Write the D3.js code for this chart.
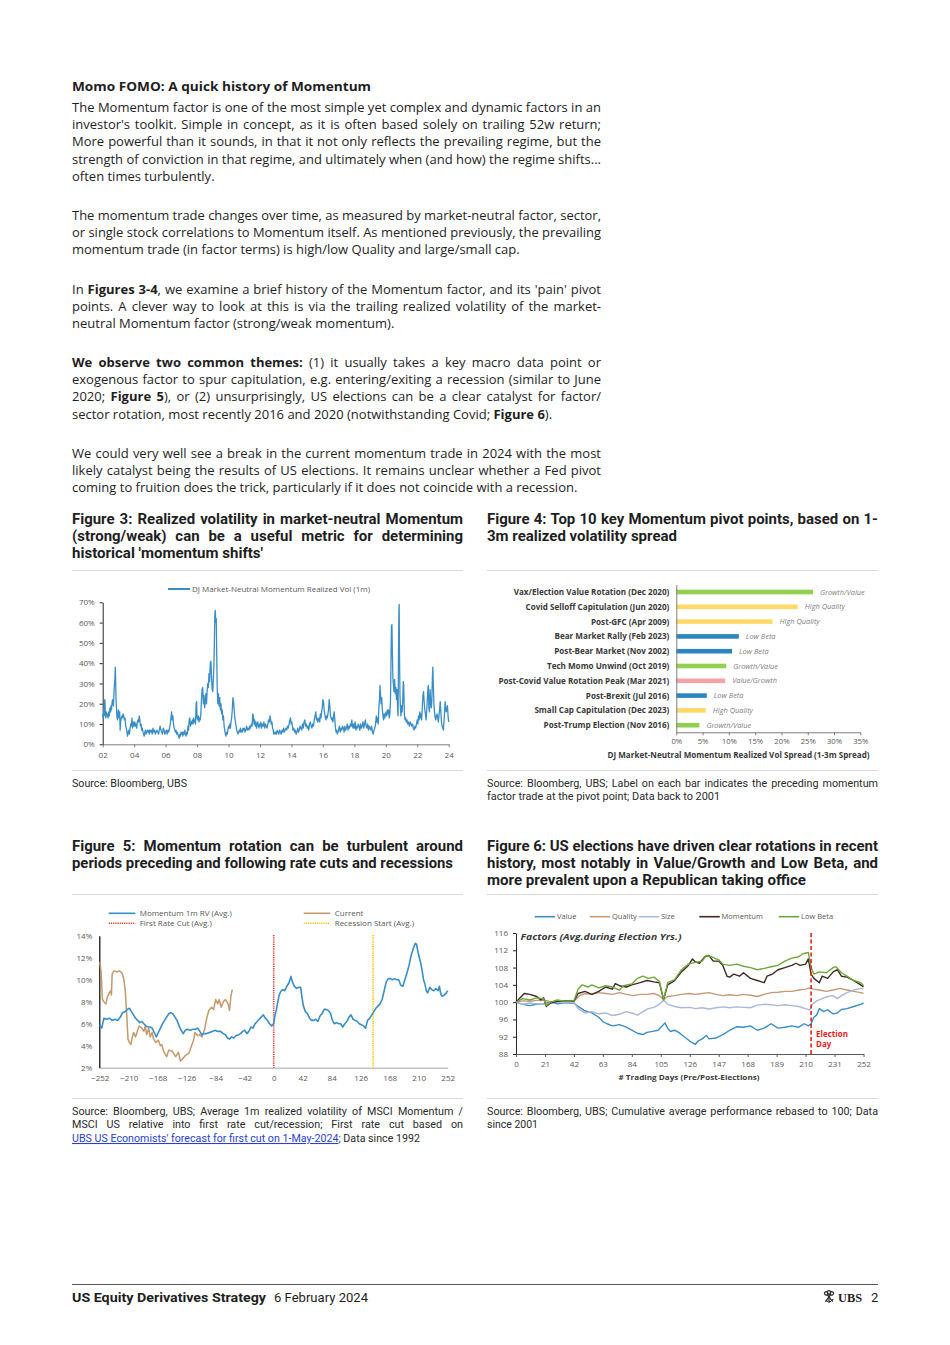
<!DOCTYPE html>
<html><head><meta charset="utf-8">
<script src="https://cdn.jsdelivr.net/npm/d3@7/dist/d3.min.js"></script>
<style>body{margin:0;background:#fff}svg{display:block}text{white-space:pre}</style>
</head><body>
<svg id="page" width="950" height="1345"></svg>
<script>
// ---------------- DATA ----------------
// Figure 3: DJ Market-Neutral Momentum realized vol (1m), [year, %]
const momVol = [[2002.00,15],[2002.03,13],[2002.06,17],[2002.09,14],[2002.12,21],[2002.14,22],[2002.17,15],[2002.20,13],[2002.23,16],[2002.26,14],[2002.30,15],[2002.34,13],[2002.38,16],[2002.42,14],[2002.46,18],[2002.50,16],[2002.53,19],[2002.56,17],[2002.60,21],[2002.64,22],[2002.68,19],[2002.71,24],[2002.74,29],[2002.77,31],[2002.80,38],[2002.82,33],[2002.85,22],[2002.88,17],[2002.91,13],[2002.94,12],[2002.97,15],[2003.00,17],[2003.04,13],[2003.08,16],[2003.11,7],[2003.14,11],[2003.18,13],[2003.22,14],[2003.26,13],[2003.30,15],[2003.34,14],[2003.38,12],[2003.42,13],[2003.46,9],[2003.50,8],[2003.54,6],[2003.58,4],[2003.62,6],[2003.66,7],[2003.70,5],[2003.74,8],[2003.78,10],[2003.82,9],[2003.86,13],[2003.90,8],[2003.94,11],[2004.00,9],[2004.04,11],[2004.08,9],[2004.12,10],[2004.16,8],[2004.20,11],[2004.24,12],[2004.28,11],[2004.32,14],[2004.36,12],[2004.40,9],[2004.44,10],[2004.48,7],[2004.52,8],[2004.56,6],[2004.60,5],[2004.64,4],[2004.68,6],[2004.72,7],[2004.76,5],[2004.80,6],[2004.84,7],[2004.88,6],[2004.92,7],[2004.96,5],[2005.00,7],[2005.05,6],[2005.10,7],[2005.15,5],[2005.20,8],[2005.25,6],[2005.30,7],[2005.35,5],[2005.40,6],[2005.45,7],[2005.50,6],[2005.55,5],[2005.60,7],[2005.65,9],[2005.70,7],[2005.75,6],[2005.80,5],[2005.85,8],[2005.90,7],[2005.95,5],[2006.00,6],[2006.05,7],[2006.10,5],[2006.15,7],[2006.20,6],[2006.25,8],[2006.30,10],[2006.34,13],[2006.38,16],[2006.42,12],[2006.46,14],[2006.50,10],[2006.54,8],[2006.58,7],[2006.62,6],[2006.66,7],[2006.70,5],[2006.74,6],[2006.78,5],[2006.82,4],[2006.86,3],[2006.90,5],[2006.94,4],[2006.98,6],[2007.02,5],[2007.06,6],[2007.10,4],[2007.14,6],[2007.18,5],[2007.22,7],[2007.26,5],[2007.30,4],[2007.34,6],[2007.38,5],[2007.42,9],[2007.46,7],[2007.50,12],[2007.54,13],[2007.58,9],[2007.62,11],[2007.66,10],[2007.70,12],[2007.74,10],[2007.78,13],[2007.82,11],[2007.86,12],[2007.90,10],[2007.94,20],[2007.97,21],[2008.00,13],[2008.04,12],[2008.08,14],[2008.12,11],[2008.16,13],[2008.20,12],[2008.24,15],[2008.28,22],[2008.32,27],[2008.36,28],[2008.40,20],[2008.44,24],[2008.48,18],[2008.52,21],[2008.56,25],[2008.60,20],[2008.64,26],[2008.68,30],[2008.72,28],[2008.76,35],[2008.80,31],[2008.84,40],[2008.88,41],[2008.92,33],[2008.96,27],[2009.00,26],[2009.04,33],[2009.07,38],[2009.10,50],[2009.13,64],[2009.16,66],[2009.19,60],[2009.22,62],[2009.25,44],[2009.28,28],[2009.32,20],[2009.36,25],[2009.40,19],[2009.44,23],[2009.48,17],[2009.52,20],[2009.56,15],[2009.60,17],[2009.64,12],[2009.68,14],[2009.72,9],[2009.76,7],[2009.80,5],[2009.84,4],[2009.88,6],[2009.92,5],[2009.96,7],[2010.00,9],[2010.04,8],[2010.08,10],[2010.12,8],[2010.16,11],[2010.20,13],[2010.24,17],[2010.28,23],[2010.32,21],[2010.36,17],[2010.40,13],[2010.44,11],[2010.48,9],[2010.52,7],[2010.56,6],[2010.60,5],[2010.64,6],[2010.68,7],[2010.72,6],[2010.76,8],[2010.80,6],[2010.84,7],[2010.88,6],[2010.92,8],[2010.96,7],[2011.00,8],[2011.05,6],[2011.10,7],[2011.15,9],[2011.20,7],[2011.25,8],[2011.30,7],[2011.35,9],[2011.40,8],[2011.45,10],[2011.50,9],[2011.54,15],[2011.58,14],[2011.62,10],[2011.66,12],[2011.70,9],[2011.74,11],[2011.78,8],[2011.82,10],[2011.86,11],[2011.90,9],[2011.94,8],[2011.98,10],[2012.02,9],[2012.06,11],[2012.10,8],[2012.15,10],[2012.20,9],[2012.25,11],[2012.30,8],[2012.35,10],[2012.40,9],[2012.45,8],[2012.50,10],[2012.55,12],[2012.60,11],[2012.64,14],[2012.68,12],[2012.72,10],[2012.76,11],[2012.80,8],[2012.84,7],[2012.88,5],[2012.92,6],[2012.96,5],[2013.00,6],[2013.05,5],[2013.10,7],[2013.15,6],[2013.20,5],[2013.25,7],[2013.30,6],[2013.35,5],[2013.40,7],[2013.45,6],[2013.50,8],[2013.55,6],[2013.60,7],[2013.65,8],[2013.70,7],[2013.75,9],[2013.80,8],[2013.85,10],[2013.90,12],[2013.94,13],[2013.98,10],[2014.02,11],[2014.06,9],[2014.10,7],[2014.15,8],[2014.20,6],[2014.25,7],[2014.30,5],[2014.35,6],[2014.40,8],[2014.45,6],[2014.50,7],[2014.55,9],[2014.60,8],[2014.65,7],[2014.70,10],[2014.75,8],[2014.80,11],[2014.85,12],[2014.90,9],[2014.95,10],[2015.00,8],[2015.05,9],[2015.10,7],[2015.15,10],[2015.20,11],[2015.25,9],[2015.30,8],[2015.35,10],[2015.40,9],[2015.45,12],[2015.50,14],[2015.55,16],[2015.59,12],[2015.63,13],[2015.67,11],[2015.71,12],[2015.75,13],[2015.80,11],[2015.84,15],[2015.88,13],[2015.92,16],[2015.96,18],[2016.00,22],[2016.04,21],[2016.08,17],[2016.12,15],[2016.16,13],[2016.20,12],[2016.24,14],[2016.28,13],[2016.32,15],[2016.36,17],[2016.40,22],[2016.44,19],[2016.48,14],[2016.52,13],[2016.56,12],[2016.60,13],[2016.64,11],[2016.68,14],[2016.72,16],[2016.76,12],[2016.80,8],[2016.84,6],[2016.88,7],[2016.92,5],[2016.96,6],[2017.00,7],[2017.05,9],[2017.10,6],[2017.15,8],[2017.20,7],[2017.25,9],[2017.30,8],[2017.35,6],[2017.40,9],[2017.45,7],[2017.50,8],[2017.55,10],[2017.60,7],[2017.65,9],[2017.70,8],[2017.75,10],[2017.80,9],[2017.84,12],[2017.88,9],[2017.92,8],[2017.96,10],[2018.00,8],[2018.05,11],[2018.10,7],[2018.15,9],[2018.20,8],[2018.25,10],[2018.30,9],[2018.35,7],[2018.40,10],[2018.45,8],[2018.50,9],[2018.55,11],[2018.60,8],[2018.65,10],[2018.70,12],[2018.75,9],[2018.80,8],[2018.85,10],[2018.90,7],[2018.95,9],[2019.00,8],[2019.05,7],[2019.10,9],[2019.15,6],[2019.20,5],[2019.25,7],[2019.30,8],[2019.35,10],[2019.40,14],[2019.44,11],[2019.48,13],[2019.52,10],[2019.56,18],[2019.60,22],[2019.63,29],[2019.66,25],[2019.70,20],[2019.74,23],[2019.78,17],[2019.82,14],[2019.86,12],[2019.90,15],[2019.94,13],[2019.98,15],[2020.02,16],[2020.06,14],[2020.10,17],[2020.14,15],[2020.18,17],[2020.22,13],[2020.26,15],[2020.30,22],[2020.33,40],[2020.36,58],[2020.39,59],[2020.42,45],[2020.45,33],[2020.48,30],[2020.52,26],[2020.56,32],[2020.60,25],[2020.64,28],[2020.68,22],[2020.72,27],[2020.75,18],[2020.78,14],[2020.80,35],[2020.83,65],[2020.85,69],[2020.87,45],[2020.90,25],[2020.93,18],[2020.96,14],[2021.00,19],[2021.04,16],[2021.08,22],[2021.11,31],[2021.14,29],[2021.18,15],[2021.22,12],[2021.26,13],[2021.30,11],[2021.35,12],[2021.40,10],[2021.45,11],[2021.50,9],[2021.55,11],[2021.60,10],[2021.65,9],[2021.70,10],[2021.75,8],[2021.80,7],[2021.85,9],[2021.90,8],[2021.95,10],[2022.00,12],[2022.04,10],[2022.08,14],[2022.12,12],[2022.16,16],[2022.20,13],[2022.24,15],[2022.28,12],[2022.32,18],[2022.36,24],[2022.40,26],[2022.44,21],[2022.48,17],[2022.52,15],[2022.56,12],[2022.60,16],[2022.64,22],[2022.68,28],[2022.71,29],[2022.74,18],[2022.78,16],[2022.82,27],[2022.86,20],[2022.90,18],[2022.93,22],[2022.96,32],[2022.99,38],[2023.02,30],[2023.06,20],[2023.10,16],[2023.14,13],[2023.18,12],[2023.22,14],[2023.26,15],[2023.30,13],[2023.34,11],[2023.38,14],[2023.42,17],[2023.46,21],[2023.50,16],[2023.54,11],[2023.58,9],[2023.62,8],[2023.66,7],[2023.70,11],[2023.74,16],[2023.77,21],[2023.80,19],[2023.84,16],[2023.88,17],[2023.92,19],[2023.96,14],[2024.00,11]];
const fig3YearTicks = [2002,2004,2006,2008,2010,2012,2014,2016,2018,2020,2022,2024];
const fig3VolTicks = [0,10,20,30,40,50,60,70];

// Figure 4: pivot points
const pivotLabels = ["Vax/Election Value Rotation (Dec 2020)","Covid Selloff Capitulation (Jun 2020)","Post-GFC (Apr 2009)","Bear Market Rally (Feb 2023)","Post-Bear Market (Nov 2002)","Tech Momo Unwind (Oct 2019)","Post-Covid Value Rotation Peak (Mar 2021)","Post-Brexit (Jul 2016)","Small Cap Capitulation (Dec 2023)","Post-Trump Election (Nov 2016)"];
const pivotSpread = [26.0, 23.1, 18.3, 11.9, 10.6, 9.5, 9.3, 5.8, 5.6, 4.4];
const pivotTrade = ["Growth/Value","High Quality","High Quality","Low Beta","Low Beta","Growth/Value","Value/Growth","Low Beta","High Quality","Growth/Value"];
const fig4Ticks = [0,5,10,15,20,25,30,35];

// Figure 5: momentum 1m RV around first rate cut, [trading day, %]
const rvAvg = [[-252,5.9],[-249,5.6],[-246,6.5],[-242,6.4],[-238,6.5],[-234,6.3],[-230,6.4],[-226,6.3],[-222,6.6],[-219,7.0],[-215,7.1],[-212,7.3],[-209,7.4],[-206,7.1],[-203,6.8],[-200,6.5],[-197,6.3],[-194,6.1],[-191,6.2],[-188,6.0],[-185,5.8],[-182,5.7],[-179,5.7],[-176,5.6],[-173,5.2],[-170,4.8],[-167,5.2],[-164,5.6],[-161,6.0],[-158,6.3],[-155,6.6],[-152,6.9],[-149,7.0],[-146,6.9],[-143,6.6],[-140,6.3],[-137,5.8],[-134,5.4],[-131,5.1],[-128,5.4],[-125,5.5],[-121,5.4],[-117,5.5],[-113,5.5],[-110,5.6],[-107,5.3],[-104,5.0],[-101,5.1],[-97,5.1],[-93,5.2],[-89,5.3],[-85,5.4],[-81,5.3],[-77,5.3],[-73,5.1],[-70,5.0],[-67,4.7],[-64,4.6],[-61,4.8],[-58,4.7],[-55,4.9],[-51,5.0],[-48,5.1],[-45,5.3],[-42,5.4],[-39,5.1],[-36,5.3],[-33,5.7],[-30,5.6],[-27,6.0],[-24,6.2],[-21,6.4],[-18,6.6],[-15,6.8],[-12,6.5],[-9,6.3],[-6,6.0],[-3,5.8],[0,6.0],[2,6.8],[4,7.3],[6,8.0],[8,8.6],[10,8.9],[13,9.1],[16,9.0],[19,9.4],[22,9.7],[25,10.3],[27,9.8],[30,9.4],[33,9.2],[36,9.3],[39,9.3],[41,8.4],[43,7.6],[46,7.1],[49,6.9],[52,6.5],[55,6.3],[58,6.3],[61,6.4],[64,6.2],[67,6.7],[70,6.9],[73,7.3],[76,7.3],[79,7.2],[82,7.0],[85,6.3],[88,6.0],[91,6.1],[94,6.0],[97,6.0],[100,5.7],[103,6.0],[106,6.2],[109,6.6],[112,6.8],[115,6.4],[118,6.3],[121,6.2],[124,6.0],[127,5.9],[130,5.8],[133,5.6],[136,6.3],[139,6.5],[142,6.8],[145,7.1],[148,7.4],[151,7.6],[154,7.8],[157,8.2],[160,9.0],[163,9.8],[166,10.1],[169,10.1],[172,10.0],[175,10.1],[178,10.0],[181,10.0],[184,9.5],[187,9.4],[190,10.0],[193,10.6],[196,11.3],[199,12.2],[202,12.8],[205,13.3],[207,13.2],[209,12.5],[211,12.0],[213,11.5],[215,10.8],[217,10.0],[219,9.6],[221,9.0],[223,8.8],[226,9.3],[229,9.1],[232,9.0],[235,9.2],[238,9.0],[240,9.4],[242,8.7],[244,8.5],[247,8.6],[250,8.8],[252,9.0]];
const rvCurrent = [[-252,11.6],[-250,10.8],[-248,8.2],[-246,8.0],[-243,7.8],[-241,8.4],[-238,8.8],[-236,9.0],[-235,8.6],[-234,10.5],[-231,10.8],[-227,10.7],[-224,10.8],[-221,10.7],[-219,10.5],[-217,10.0],[-215,9.0],[-213,7.0],[-211,4.6],[-209,4.3],[-207,4.1],[-205,4.7],[-203,5.2],[-200,4.8],[-198,5.2],[-195,5.8],[-191,5.6],[-188,5.3],[-186,5.8],[-184,5.0],[-181,5.6],[-179,4.8],[-176,5.2],[-174,4.6],[-171,4.3],[-167,4.5],[-164,4.0],[-162,4.1],[-160,3.6],[-157,3.2],[-155,3.0],[-152,3.6],[-147,3.5],[-142,3.0],[-138,3.4],[-135,2.6],[-132,2.8],[-128,3.1],[-123,3.3],[-119,4.0],[-116,4.5],[-114,5.2],[-110,4.9],[-107,5.0],[-104,4.8],[-100,5.5],[-97,6.5],[-94,7.2],[-90,7.5],[-87,7.3],[-84,8.2],[-81,7.8],[-79,8.2],[-76,7.5],[-73,8.0],[-70,8.2],[-66,7.8],[-64,7.2],[-62,8.5],[-60,9.1]];
const firstRateCutDay = 0;
const recessionStartDay = 144;
const fig5DayTicks = [-252,-210,-168,-126,-84,-42,0,42,84,126,168,210,252];
const fig5RvTicks = [2,4,6,8,10,12,14];

// Figure 6: factors during election years, [trading day, index]
const factorValue = [[0,100],[5,99.5],[10,99.2],[15,99.5],[20,99.6],[25,100.1],[30,99.6],[35,99.8],[42,99.8],[45,99.0],[50,98.0],[55,97.5],[60,96.5],[63,95.5],[66,95.0],[70,94.5],[75,94.8],[80,94.2],[84,93.5],[88,92.8],[92,92.5],[95,93.0],[100,93.3],[103,93.5],[106,94.5],[108,95.2],[110,94.0],[112,93.2],[115,93.5],[118,93.0],[122,92.0],[126,91.0],[130,90.2],[132,91.0],[135,91.5],[138,92.3],[140,91.5],[145,91.7],[150,92.5],[155,93.5],[160,94.3],[165,94.2],[170,94.5],[175,93.5],[180,94.0],[185,95.0],[190,94.0],[195,94.2],[200,94.5],[205,94.2],[209,95.0],[212,94.5],[214,95.0],[216,96.5],[218,97.0],[220,98.5],[223,97.8],[226,98.2],[230,97.3],[233,97.5],[236,98.3],[240,98.5],[245,99.0],[250,99.5],[252,99.8]];
const factorQuality = [[0,100],[5,100.3],[10,100.2],[15,100.4],[20,100.5],[25,100.1],[30,100.0],[35,100.3],[42,100.2],[46,101.5],[50,102.0],[55,101.8],[60,102.2],[65,102.0],[70,101.8],[75,102.2],[80,101.8],[85,101.5],[90,101.8],[95,101.8],[100,102.0],[104,101.5],[107,100.6],[110,101.3],[115,101.5],[120,101.8],[126,102.0],[130,101.8],[135,102.0],[140,102.2],[145,101.8],[150,101.5],[155,101.7],[160,101.5],[165,101.8],[170,101.6],[175,101.3],[180,101.8],[185,102.2],[190,102.3],[195,102.5],[200,102.5],[205,102.8],[210,103.0],[213,103.3],[216,103.0],[220,102.8],[225,102.5],[230,102.8],[235,103.2],[240,102.8],[245,102.5],[250,102.2],[252,102.0]];
const factorSize = [[0,100],[5,99.5],[10,99.8],[15,99.6],[20,99.5],[25,99.8],[30,100.0],[35,99.8],[42,100.0],[45,98.5],[50,97.5],[55,97.8],[60,97.3],[65,97.5],[70,96.9],[75,97.2],[80,97.8],[84,97.5],[88,97.0],[92,97.8],[96,98.5],[100,98.8],[104,99.5],[107,100.5],[110,99.5],[115,99.0],[120,98.7],[126,98.8],[130,98.5],[135,98.7],[140,98.4],[145,98.7],[150,98.9],[155,98.7],[160,98.9],[165,98.8],[170,98.7],[175,99.3],[180,99.5],[185,99.4],[190,99.2],[195,99.4],[200,99.2],[205,99.0],[210,98.5],[213,98.2],[215,99.5],[218,100.3],[222,100.8],[226,101.3],[230,101.5],[233,100.8],[236,101.5],[240,102.2],[245,102.8],[250,103.2],[252,103.0]];
const factorMomentum = [[0,100],[3,101.0],[6,102.0],[10,101.8],[15,101.3],[18,100.5],[20,101.0],[22,99.0],[25,99.8],[30,100.2],[35,100.3],[42,100.2],[45,102.0],[50,102.5],[55,101.8],[60,102.5],[65,103.5],[70,103.0],[72,104.3],[75,103.8],[80,103.5],[84,104.0],[90,104.5],[95,105.0],[100,104.7],[104,104.5],[107,100.6],[110,104.0],[115,105.0],[120,107.0],[125,108.5],[128,110.0],[130,109.3],[133,109.0],[137,110.5],[140,110.8],[143,109.5],[147,109.5],[150,108.5],[153,106.0],[155,105.8],[158,106.5],[162,106.0],[165,106.8],[170,105.5],[175,105.0],[180,104.5],[182,106.0],[186,106.5],[190,107.5],[195,108.0],[200,108.5],[203,109.0],[206,108.5],[210,108.8],[212,110.0],[214,106.5],[216,105.5],[220,104.5],[222,106.0],[226,105.5],[230,107.0],[233,107.5],[236,106.0],[240,105.8],[245,105.0],[250,104.0],[252,103.5]];
const factorLowBeta = [[0,100],[5,100.8],[10,100.5],[15,101.0],[20,100.8],[22,99.2],[25,100.0],[30,100.5],[35,100.2],[42,100.3],[45,103.0],[48,104.0],[52,103.5],[55,104.0],[60,103.3],[65,103.8],[70,103.5],[75,102.8],[78,103.8],[84,104.2],[88,105.5],[92,106.0],[96,105.5],[100,105.8],[104,104.8],[107,100.6],[110,104.5],[115,105.2],[120,107.5],[125,108.8],[130,109.2],[135,109.5],[138,110.8],[142,110.5],[147,109.8],[150,108.8],[155,108.5],[160,108.8],[165,108.3],[170,108.0],[175,107.5],[180,107.8],[185,108.2],[190,108.5],[195,109.5],[200,110.2],[205,110.5],[208,111.2],[212,111.5],[214,108.0],[216,106.5],[220,107.0],[225,106.8],[230,108.0],[232,108.2],[236,106.8],[240,106.0],[245,105.0],[250,104.5],[252,103.8]];
const factorNames = ["Value","Quality","Size","Momentum","Low Beta"];
const electionDay = 214;
const fig6DayTicks = [0,21,42,63,84,105,126,147,168,189,210,231,252];
const fig6IdxTicks = [88,92,96,100,104,108,112,116];

// ---------------- HELPERS ----------------
const BODY = "'Open Sans','Noto Sans',sans-serif";
const COND = "Roboto,'Liberation Sans',sans-serif";
const TEXT = "#1e1e1e";
const GRAY = "#595959";
const svg = d3.select('#page');
svg.append('rect').attr('width',950).attr('height',1345).attr('fill','#fff');

function addText(parent, x, y, parts, o) {
  o = o || {};
  const t = parent.append('text').attr('x', x).attr('y', y)
    .style('font-family', o.family || BODY).style('font-size', (o.size || 13) + 'px')
    .style('font-weight', o.weight || 400).style('fill', o.fill || TEXT);
  if (o.italic) t.style('font-style', 'italic');
  if (o.anchor) t.attr('text-anchor', o.anchor);
  if (typeof parts === 'string') parts = [[parts]];
  parts.forEach(p => {
    const s = t.append('tspan').text(p[0]);
    if (p[1] === 'b') s.style('font-weight', 700);
    if (p[1] === 'link') s.style('fill', '#2a3fd6').style('text-decoration', 'underline');
  });
  if (o.width) fitText(t, o.width, o.justify);
  return t;
}
function fitText(t, width, justify) {
  const node = t.node();
  const w = node.getComputedTextLength();
  const n = (node.textContent.match(/ /g) || []).length;
  if (justify && n > 0 && w <= width) {
    t.style('word-spacing', ((width - w) / n) + 'px');
  } else {
    t.attr('textLength', width).attr('lengthAdjust', 'spacingAndGlyphs');
  }
}
// condensed-style lines: horizontally scaled glyphs (scale derived from reference widths), then justified
function measure(str, o) {
  const t = addText(svg, 0, -100, [[str]], o);
  const w = t.node().getComputedTextLength();
  t.remove();
  return w;
}
function condScale(samples, o) {
  let a = 0, b = 0;
  samples.forEach(s => { a += s[1]; b += measure(s[0], o); });
  return a / b;
}
function condLine(x, y, parts, o, sx, width, justify) {
  const t = addText(svg, 0, 0, parts, o);
  t.attr('transform', 'translate(' + x + ',' + y + ') scale(' + sx + ',1)');
  const w = t.node().getComputedTextLength();
  const n = (t.node().textContent.match(/ /g) || []).length;
  const target = width / sx;
  if (justify && n > 0 && w <= target) t.style('word-spacing', ((target - w) / n) + 'px');
  else t.attr('textLength', target).attr('lengthAdjust', 'spacingAndGlyphs');
  return t;
}
function styleAxis(g, o) {
  g.select('.domain').attr('stroke', o.domain || '#595959').attr('stroke-width', o.domainWidth || 1);
  g.selectAll('.tick line').attr('stroke', o.tick || '#595959');
  g.selectAll('.tick text').style('font-family', BODY).style('font-size', (o.size || 8) + 'px')
    .style('fill', o.fill || GRAY).style('font-weight', o.weight || 400);
  return g;
}

// ---------------- BODY TEXT ----------------
const LX = 72, LW = 529;
addText(svg, LX, 91, [['Momo FOMO: A quick history of Momentum','b']], {width: 299});
const bodyLines = [
  [111.5, [['The Momentum factor is one of the most simple yet complex and dynamic factors in an']], true],
  [128.85, [["investor's toolkit. Simple in concept, as it is often based solely on trailing 52w return;"]], true],
  [146.2, [['More powerful than it sounds, in that it not only reflects the prevailing regime, but the']], true],
  [163.55, [['strength of conviction in that regime, and ultimately when (and how) the regime shifts...']], true],
  [180.9, [['often times turbulently.']], false],
  [219.5, [['The momentum trade changes over time, as measured by market-neutral factor, sector,']], true],
  [236.85, [['or single stock correlations to Momentum itself. As mentioned previously, the prevailing']], true],
  [254.2, [['momentum trade (in factor terms) is high/low Quality and large/small cap.']], false],
  [293.5, [['In '],['Figures 3-4','b'],[", we examine a brief history of the Momentum factor, and its 'pain' pivot"]], true],
  [310.85, [['points. A clever way to look at this is via the trailing realized volatility of the market-']], true],
  [328.2, [['neutral Momentum factor (strong/weak momentum).']], false],
  [366.5, [['We observe two common themes:','b'],[' (1) it usually takes a key macro data point or']], true],
  [383.85, [['exogenous factor to spur capitulation, e.g. entering/exiting a recession (similar to June']], true],
  [401.2, [['2020; '],['Figure 5','b'],['), or (2) unsurprisingly, US elections can be a clear catalyst for factor/']], true],
  [418.55, [['sector rotation, most recently 2016 and 2020 (notwithstanding Covid; '],['Figure 6','b'],[').']], false],
  [457.5, [['We could very well see a break in the current momentum trade in 2024 with the most']], true],
  [474.85, [['likely catalyst being the results of US elections. It remains unclear whether a Fed pivot']], true],
  [492.2, [['coming to fruition does the trick, particularly if it does not coincide with a recession.']], false]
];
bodyLines.forEach(l => addText(svg, LX, l[0], l[1], l[2] ? {width: LW, justify: true} : {}));

// ---------------- FIGURE TITLES / SOURCES ----------------
const TS = {family: COND, size: 14, weight: 700};
const tsx = condScale([["historical 'momentum shifts'", 191], ['3m realized volatility spread', 190],
  ['periods preceding and following rate cuts and recessions', 381], ['more prevalent upon a Republican taking office', 319]], TS);
function titleLines(x, ys, lines) {
  lines.forEach((l, i) => condLine(x, ys[i], [[l[0]]], TS, tsx, l[1], l[2]));
}
titleLines(72, [523.5, 540.5, 557.5], [
  ['Figure 3: Realized volatility in market-neutral Momentum', 391, true],
  ['(strong/weak) can be a useful metric for determining', 391, true],
  ["historical 'momentum shifts'", 191, false]]);
titleLines(487, [523.5, 540.5], [
  ['Figure 4: Top 10 key Momentum pivot points, based on 1-', 391, true],
  ['3m realized volatility spread', 190, false]]);
titleLines(72, [850.5, 867.5], [
  ['Figure 5: Momentum rotation can be turbulent around', 391, true],
  ['periods preceding and following rate cuts and recessions', 381, false]]);
titleLines(487, [850.5, 867.5, 884.5], [
  ['Figure 6: US elections have driven clear rotations in recent', 391, true],
  ['history, most notably in Value/Growth and Low Beta, and', 391, true],
  ['more prevalent upon a Republican taking office', 319, false]]);

// separators
[[72,463,570.5],[487,878,570.5],[72,463,770.5],[487,878,770.5],[72,463,894.5],[487,878,894.5],[72,463,1098.5],[487,878,1098.5]]
  .forEach(s => svg.append('line').attr('x1', s[0]).attr('x2', s[1]).attr('y1', s[2]).attr('y2', s[2]).attr('stroke', '#d9d9d9').attr('stroke-width', 1));

const SS = {family: COND, size: 10.5, weight: 400, fill: '#2a2a2a'};
const ssx = condScale([['Source: Bloomberg, UBS', 115], ['factor trade at the pivot point; Data back to 2001', 233], ['since 2001', 51]], SS);
condLine(72, 786.5, [['Source: Bloomberg, UBS']], SS, ssx, 115, false);
condLine(487, 786.5, [['Source: Bloomberg, UBS; Label on each bar indicates the preceding momentum']], SS, ssx, 391, true);
condLine(487, 800, [['factor trade at the pivot point; Data back to 2001']], SS, ssx, 233, false);
condLine(72, 1114.5, [['Source: Bloomberg, UBS; Average 1m realized volatility of MSCI Momentum /']], SS, ssx, 391, true);
condLine(72, 1128.3, [['MSCI US relative into first rate cut/recession; First rate cut based on']], SS, ssx, 391, true);
condLine(72, 1142, [["UBS US Economists' forecast for first cut on 1-May-2024", 'link'], ['; Data since 1992']], SS, ssx, 348, false);
condLine(487, 1114.5, [['Source: Bloomberg, UBS; Cumulative average performance rebased to 100; Data']], SS, ssx, 391, true);
condLine(487, 1128.3, [['since 2001']], SS, ssx, 51, false);

// ---------------- FIGURE 3 ----------------
(function(){
  const g = svg.append('g');
  const x = d3.scaleLinear().domain([2002, 2024]).range([102.7, 448.7]);
  const y = d3.scaleLinear().domain([0, 70]).range([744.3, 602.3]);
  styleAxis(g.append('g').attr('transform', 'translate(0,744.3)')
    .call(d3.axisBottom(x).tickValues(fig3YearTicks).tickFormat(d => String(d).slice(2)).tickSize(3).tickSizeOuter(0).tickPadding(5)), {domain: '#7f7f7f', tick: '#7f7f7f'});
  styleAxis(g.append('g').attr('transform', 'translate(102.7,0)')
    .call(d3.axisLeft(y).tickValues(fig3VolTicks).tickFormat(d => d + '%').tickSize(3).tickSizeOuter(0).tickPadding(5)), {domain: '#262626', tick: '#262626'});
  g.append('path').datum(momVol).attr('fill', 'none').attr('stroke', '#3a8ec8').attr('stroke-width', 1.3)
    .attr('stroke-linejoin', 'round').attr('d', d3.line().x(d => x(d[0])).y(d => y(d[1])));
  g.append('line').attr('x1', 168).attr('x2', 190).attr('y1', 589).attr('y2', 589).attr('stroke', '#3a8ec8').attr('stroke-width', 2);
  addText(g, 192, 591.8, 'DJ Market-Neutral Momentum Realized Vol (1m)', {size: 8, fill: GRAY, width: 178});
})();

// ---------------- FIGURE 4 ----------------
(function(){
  const g = svg.append('g');
  const tradeColor = d3.scaleOrdinal().domain(["Growth/Value","High Quality","Low Beta","Value/Growth"])
    .range(["#92d050","#ffd966","#2e86c1","#f4a3a3"]);
  const x = d3.scaleLinear().domain([0, 35]).range([676.3, 860.3]);
  const y = d3.scalePoint().domain(pivotLabels).range([584.6, 732.6]).padding(0.5);
  g.selectAll('rect.bar').data(pivotLabels).enter().append('rect')
    .attr('x', x(0)).attr('y', d => y(d) - 2.3).attr('height', 4.6)
    .attr('width', (d, i) => x(pivotSpread[i]) - x(0))
    .attr('fill', (d, i) => tradeColor(pivotTrade[i]));
  g.selectAll('text.lab').data(pivotLabels).enter().append('text')
    .attr('x', (d, i) => x(pivotSpread[i]) + 7).attr('y', d => y(d) + 2.5)
    .text((d, i) => pivotTrade[i])
    .style('font-family', BODY).style('font-size', '7.4px').style('font-style', 'italic').style('fill', '#7f7f7f');
  styleAxis(g.append('g').attr('transform', 'translate(676.3,0)')
    .call(d3.axisLeft(y).tickSize(0).tickPadding(7)), {domain: '#7f7f7f', size: 8.1, weight: 700, fill: '#3a3a3a'});
  styleAxis(g.append('g').attr('transform', 'translate(0,732.3)')
    .call(d3.axisBottom(x).tickValues(fig4Ticks).tickFormat(d => d + '%').tickSize(3).tickSizeOuter(0).tickPadding(3)), {domain: '#7f7f7f', tick: '#7f7f7f', size: 7.7});
  addText(g, 738.5, 757.5, 'DJ Market-Neutral Momentum Realized Vol Spread (1-3m Spread)', {size: 8.1, weight: 700, fill: '#3a3a3a', anchor: 'middle'});
})();

// ---------------- FIGURE 5 ----------------
(function(){
  const g = svg.append('g');
  const x = d3.scaleLinear().domain([-252, 252]).range([99.7, 447.7]);
  const y = d3.scaleLinear().domain([2, 14]).range([1067.7, 935.7]);
  styleAxis(g.append('g').attr('transform', 'translate(0,1067.7)')
    .call(d3.axisBottom(x).tickValues(fig5DayTicks).tickSize(0).tickPadding(8)), {domain: '#a6a6a6'});
  styleAxis(g.append('g').attr('transform', 'translate(99.3,0)')
    .call(d3.axisLeft(y).tickValues(fig5RvTicks).tickFormat(d => d + '%').tickSize(0).tickPadding(7)), {domain: '#000', domainWidth: 1.2});
  const ln = d3.line().x(d => x(d[0])).y(d => y(d[1]));
  g.append('line').attr('x1', x(firstRateCutDay)).attr('x2', x(firstRateCutDay)).attr('y1', 935).attr('y2', 1067.7)
    .attr('stroke', '#e8332a').attr('stroke-width', 1.6).attr('stroke-dasharray', '1.2,1');
  g.append('line').attr('x1', x(recessionStartDay)).attr('x2', x(recessionStartDay)).attr('y1', 935).attr('y2', 1067.7)
    .attr('stroke', '#ffc000').attr('stroke-width', 1.6).attr('stroke-dasharray', '1.2,1');
  g.append('path').datum(rvCurrent).attr('fill', 'none').attr('stroke', '#c49a6c').attr('stroke-width', 1.5).attr('stroke-linejoin', 'round').attr('d', ln);
  g.append('path').datum(rvAvg).attr('fill', 'none').attr('stroke', '#3a8ec8').attr('stroke-width', 1.6).attr('stroke-linejoin', 'round').attr('d', ln);
  const leg = [[108.7, 913.3, '#3a8ec8', null, 'Momentum 1m RV (Avg.)'], [303.7, 913.3, '#c49a6c', null, 'Current'],
               [108.7, 923.3, '#e8332a', '1.2,1', 'First Rate Cut (Avg.)'], [303.7, 923.3, '#ffc000', '1.2,1', 'Recession Start (Avg.)']];
  leg.forEach(l => {
    const li = g.append('line').attr('x1', l[0]).attr('x2', l[0] + 26.6).attr('y1', l[1]).attr('y2', l[1]).attr('stroke', l[2]).attr('stroke-width', 1.6);
    if (l[3]) li.attr('stroke-dasharray', l[3]);
    addText(g, l[0] + 31, l[1] + 2.8, l[4], {size: 8, fill: GRAY});
  });
})();

// ---------------- FIGURE 6 ----------------
(function(){
  const g = svg.append('g');
  const x = d3.scaleLinear().domain([0, 252]).range([516, 863.5]);
  const y = d3.scaleLinear().domain([88, 116]).range([1054, 933]);
  styleAxis(g.append('g').attr('transform', 'translate(0,1054)')
    .call(d3.axisBottom(x).tickValues(fig6DayTicks).tickSize(3).tickSizeOuter(0).tickPadding(4)), {domain: '#595959', tick: '#595959'});
  styleAxis(g.append('g').attr('transform', 'translate(516,0)')
    .call(d3.axisLeft(y).tickValues(fig6IdxTicks).tickSize(3).tickSizeOuter(0).tickPadding(5)), {domain: '#262626', tick: '#262626'});
  const series = [factorValue, factorQuality, factorSize, factorMomentum, factorLowBeta];
  const colors = ['#3a8ec8', '#c49a7a', '#aab8da', '#3d2b24', '#6fa83a'];
  const ln = d3.line().x(d => x(d[0])).y(d => y(d[1]));
  series.forEach((s, i) => g.append('path').datum(s).attr('fill', 'none').attr('stroke', colors[i])
    .attr('stroke-width', 1.4).attr('stroke-linejoin', 'round').attr('d', ln));
  g.append('line').attr('x1', x(electionDay)).attr('x2', x(electionDay)).attr('y1', 933).attr('y2', 1054)
    .attr('stroke', '#e8201a').attr('stroke-width', 1.6).attr('stroke-dasharray', '4,2.5');
  addText(g, x(electionDay) + 5, 1037.3, 'Election', {size: 8, weight: 700, fill: '#e8201a'});
  addText(g, x(electionDay) + 5, 1047.3, 'Day', {size: 8, weight: 700, fill: '#e8201a'});
  addText(g, 520.5, 940, 'Factors (Avg.during Election Yrs.)', {size: 9, weight: 700, italic: true, fill: '#3a3a3a', width: 161});
  const legX = [534.7, 589.7, 638.7, 699.3, 778.7];
  factorNames.forEach((n, i) => {
    g.append('line').attr('x1', legX[i]).attr('x2', legX[i] + 20.5).attr('y1', 916.7).attr('y2', 916.7).attr('stroke', colors[i]).attr('stroke-width', 1.6);
    addText(g, legX[i] + 22.3, 919.4, n, {size: 7.5, fill: GRAY});
  });
  addText(g, 689, 1079.5, '# Trading Days (Pre/Post-Elections)', {size: 7.4, weight: 700, fill: '#3a3a3a', anchor: 'middle', width: 141});
})();

// ---------------- FOOTER ----------------
svg.append('line').attr('x1', 72).attr('x2', 878).attr('y1', 1284.5).attr('y2', 1284.5).attr('stroke', '#555').attr('stroke-width', 1);
addText(svg, 72, 1301.5, [['US Equity Derivatives Strategy']], {family: COND, size: 13.5, weight: 700, width: 194});
addText(svg, 274, 1301.5, [['6 February 2024']], {family: COND, size: 13.5, weight: 400, width: 94});
(function(){
  const k = svg.append('g').attr('transform', 'translate(829,1297)').attr('stroke', '#2a2a2a').attr('fill', 'none').attr('stroke-width', 1.2);
  [-38, 0, 38].forEach(a => {
    const kk = k.append('g').attr('transform', 'rotate(' + a + ')');
    kk.append('line').attr('x1', 0).attr('x2', 0).attr('y1', 6).attr('y2', -3);
    kk.append('circle').attr('cx', 0).attr('cy', -4.6).attr('r', 1.7);
    kk.append('line').attr('x1', 0).attr('x2', 2).attr('y1', 4.5).attr('y2', 4.5);
  });
})();
addText(svg, 838, 1301.5, [['UBS']], {family: "'Liberation Serif',serif", size: 13, weight: 700, width: 24});
addText(svg, 871, 1301.5, [['2']], {family: COND, size: 13});
</script>
</body></html>
